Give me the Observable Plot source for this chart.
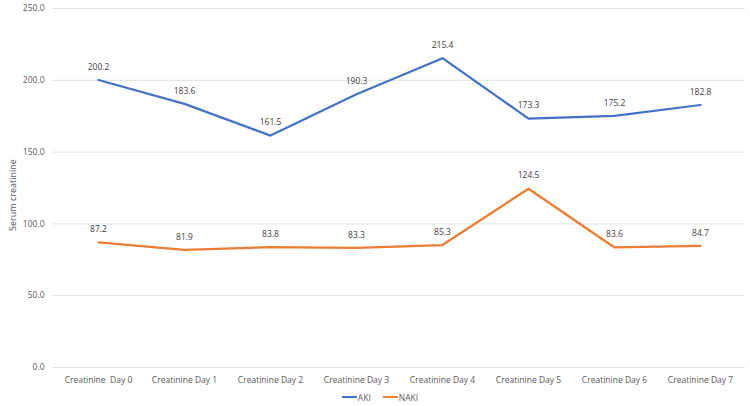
<!DOCTYPE html>
<html>
<head>
<meta charset="utf-8">
<script src="https://cdn.jsdelivr.net/npm/d3@7"></script>
<script src="https://cdn.jsdelivr.net/npm/@observablehq/plot@0.6"></script>
<style>
  body { margin: 0; background: #fff; font-family: "Open Sans", sans-serif; }
  #chart svg text { white-space: pre; }
  .legend { display: flex; justify-content: center; align-items: center; gap: 6px; font-size: 8.5px; color: #595959; height: 18px; padding-left: 10px; }
  .legend span.sw { display: inline-block; width: 15px; height: 2.5px; margin-right: 1px; vertical-align: middle; }
  .legend .item { display: flex; align-items: center; margin: 0 3px; }
</style>
</head>
<body>
<div id="chart"></div>
<div class="legend">
  <div class="item"><span class="sw" style="background:#4472C4"></span>AKI</div>
  <div class="item"><span class="sw" style="background:#ED7D31"></span>NAKI</div>
</div>
<script>
const categories = ["Creatinine  Day 0", "Creatinine Day 1", "Creatinine Day 2", "Creatinine Day 3", "Creatinine Day 4", "Creatinine Day 5", "Creatinine Day 6", "Creatinine Day 7"];
const seriesNames = ["AKI", "NAKI"];
const aki = [200.2, 183.6, 161.5, 190.3, 215.4, 173.3, 175.2, 182.8];
const naki = [87.2, 81.9, 83.8, 83.3, 85.3, 124.5, 83.6, 84.7];
const yTicks = [0, 50, 100, 150, 200, 250];
const colors = ["#4472C4", "#ED7D31"];

const data = [];
categories.forEach((c, i) => {
  data.push({cat: c, series: seriesNames[0], value: aki[i]});
  data.push({cat: c, series: seriesNames[1], value: naki[i]});
});

const chart = Plot.plot({
  width: 750,
  height: 388,
  marginLeft: 52,
  marginRight: 5,
  marginTop: 8,
  marginBottom: 21,
  style: {fontFamily: "Open Sans, sans-serif", fontSize: "8.5px", color: "#595959", background: "#fff"},
  x: {type: "point", domain: categories, padding: 0.5, label: null, tickSize: 0, tickPadding: 9},
  y: {domain: [0, 250], ticks: yTicks, tickFormat: d3.format(".1f"), label: null, tickSize: 0, tickPadding: 8},
  color: {domain: seriesNames, range: colors},
  marks: [
    Plot.gridY(yTicks, {stroke: "#d9d9d9", strokeOpacity: 1, strokeWidth: 0.8}),
    Plot.axisX({tickSize: 0, tickPadding: 9, fill: "#595959"}),
    Plot.axisY({ticks: yTicks, tickFormat: d3.format(".1f"), tickSize: 0, tickPadding: 8, fill: "#595959", label: null}),
    Plot.line(data, {x: "cat", y: "value", z: "series", stroke: "series", strokeWidth: 2.25, strokeLinejoin: "miter", curve: "linear"}),
    Plot.text(data, {x: "cat", y: "value", text: d => d.value.toFixed(1), dy: -13, fill: "#404040", fontSize: 8.5})
  ]
});
document.getElementById("chart").appendChild(chart);

// y axis title
const svg = d3.select(chart);
svg.append("text")
  .attr("transform", "translate(14,195) rotate(-90)")
  .attr("text-anchor", "middle")
  .attr("dominant-baseline", "middle")
  .attr("fill", "#595959")
  .attr("font-size", 9)
  .text("Serum creatinine");
</script>
</body>
</html>
